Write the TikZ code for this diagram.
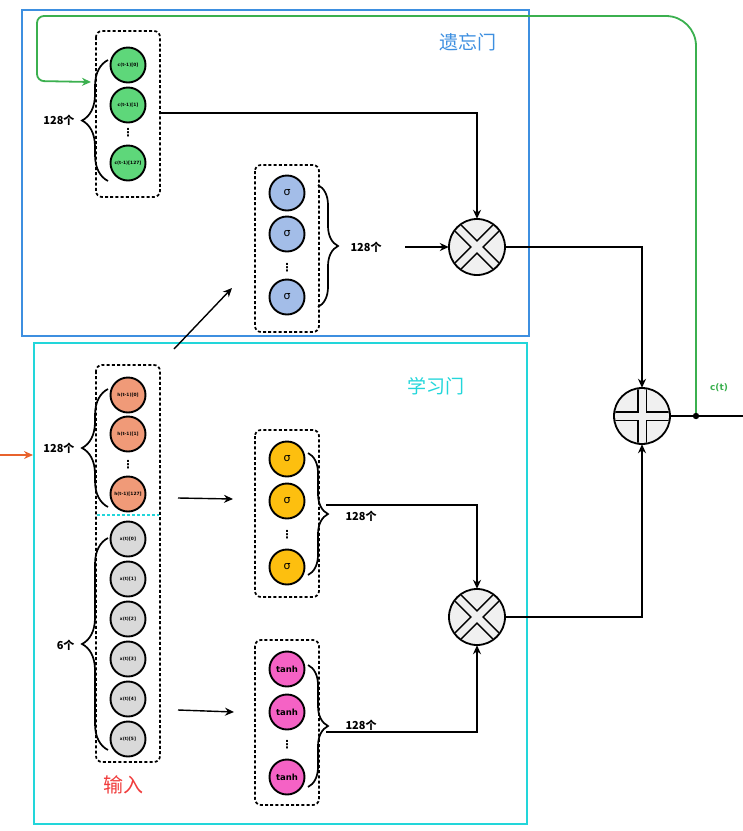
\documentclass[tikz,border=0pt]{standalone}
\usepackage{fontspec}
\setmainfont{DejaVu Sans}
\newfontfamily\cjk{Noto Sans CJK SC}
\usetikzlibrary{decorations.pathreplacing,arrows.meta,calc}
\definecolor{boxblue}{HTML}{3D8FE0}
\definecolor{boxcyan}{HTML}{22D6DA}
\definecolor{lineg}{HTML}{3BB04F}
\definecolor{ngreen}{HTML}{5ED77A}
\definecolor{nblue}{HTML}{A3BDE8}
\definecolor{norange}{HTML}{F09A78}
\definecolor{ngray}{HTML}{D9D9D9}
\definecolor{nyellow}{HTML}{FDBF0F}
\definecolor{npink}{HTML}{F562C5}
\definecolor{opgray}{HTML}{F0F0F0}
\definecolor{inred}{HTML}{F03C3C}
\definecolor{inorange}{HTML}{E8622C}
\newcommand{\mulsym}[1]{%
  \begin{scope}
    \clip (#1) circle (27);
    \draw[line width=10pt] ($(#1)+(-30,-30)$) -- ($(#1)+(30,30)$) ($(#1)+(-30,30)$) -- ($(#1)+(30,-30)$);
    \draw[line width=7pt,opgray] ($(#1)+(-30,-30)$) -- ($(#1)+(30,30)$) ($(#1)+(-30,30)$) -- ($(#1)+(30,-30)$);
  \end{scope}
  \draw[line width=1.8pt] (#1) circle (28);}
\newcommand{\addsym}[1]{%
  \begin{scope}
    \clip (#1) circle (27);
    \draw[line width=10pt] ($(#1)+(-30,0)$) -- ($(#1)+(30,0)$) ($(#1)+(0,-30)$) -- ($(#1)+(0,30)$);
    \draw[line width=7pt,opgray] ($(#1)+(-30,0)$) -- ($(#1)+(30,0)$) ($(#1)+(0,-30)$) -- ($(#1)+(0,30)$);
  \end{scope}
  \draw[line width=1.8pt] (#1) circle (28);}
\begin{document}
\begin{tikzpicture}[x=1pt,y=-1pt,
  neuron/.style={circle,draw,line width=1.9pt,minimum size=35pt,inner sep=0pt},
  tinylbl/.style={font=\bfseries\fontsize{4.4}{5}\selectfont},
  grp/.style={draw,dash pattern=on 3pt off 2.2pt,line width=1.7pt,rounded corners=6pt},
  arr/.style={-{Stealth[length=9pt,width=8pt]},line width=1.4pt},
  conn/.style={line width=1.4pt},
  brcl/.style={decorate,decoration={brace,amplitude=26pt},line width=1.7pt},
  brcr/.style={decorate,decoration={brace,amplitude=20pt},line width=1.7pt},
  cnt/.style={font=\cjk\bfseries\fontsize{11}{12}\selectfont},
  vdots/.style={font=\bfseries\fontsize{11}{11}\selectfont},
  sig/.style={font=\fontsize{11}{11}\selectfont},
  op/.style={circle,minimum size=56pt,inner sep=0pt,fill=opgray}
]
\useasboundingbox (0,0) rectangle (743,831);

% gate boxes
\draw[boxblue,line width=2.6pt] (22,10) rectangle (529,336);
\node[boxblue,font=\cjk\fontsize{19}{20}\selectfont] (fgl) at (468,42) {遗忘门};
\draw[boxcyan,line width=2.6pt] (34,343) rectangle (527,824);
\node[boxcyan,font=\cjk\fontsize{19}{20}\selectfont] (lgl) at (436,386) {学习门};

% ---- c(t-1) column
\draw[grp] (96,31) rectangle (160,197);
\node[neuron,fill=ngreen,tinylbl] (c0) at (128,65) {c(t-1)[0]};
\node[neuron,fill=ngreen,tinylbl] (c1) at (128,105) {c(t-1)[1]};
\node[vdots] (cd) at (128,133) {⋮};
\node[neuron,fill=ngreen,tinylbl] (c3) at (128,163) {c(t-1)[127]};
\draw[brcl] (108,181) -- (108,60);
\node[cnt,anchor=east] (ccnt) at (78,120) {128个};
\coordinate (cbin) at (91,82);

% ---- h(t-1) + x(t) column
\draw[grp] (96,365) rectangle (160,762);
\draw[boxcyan,dash pattern=on 3pt off 2pt,line width=1.5pt] (97,515) -- (159,515);
\node[neuron,fill=norange,tinylbl] (h0) at (128,395) {h(t-1)[0]};
\node[neuron,fill=norange,tinylbl] (h1) at (128,434) {h(t-1)[1]};
\node[vdots] (hd) at (128,465) {⋮};
\node[neuron,fill=norange,tinylbl] (h3) at (128,494) {h(t-1)[127]};
\draw[brcl] (108,507) -- (108,389);
\node[cnt,anchor=east] (hcnt) at (78,448) {128个};
\foreach \i/\yy in {0/539,1/579,2/619,3/659,4/699,5/739}{
  \node[neuron,fill=ngray,tinylbl] (x\i) at (128,\yy) {x(t)[\i]};
}
\draw[brcl] (108,750) -- (108,538);
\node[cnt,anchor=east] (xcnt) at (78,645) {6个};
\node[inred,font=\cjk\fontsize{20}{22}\selectfont] (inl) at (123,785) {输入};
\coordinate (inA) at (0,455);
\coordinate (inB) at (33,455);
\draw[arr,inorange] (inA) -- (inB);

% ---- forget sigma column
\draw[grp] (255,165) rectangle (319,332);
\node[neuron,fill=nblue,sig] (f0) at (287,193) {σ};
\node[neuron,fill=nblue,sig] (f1) at (287,234) {σ};
\node[vdots] (fd) at (287,268) {⋮};
\node[neuron,fill=nblue,sig] (f3) at (287,297) {σ};
\draw[brcr] (318,185) -- (318,307);
\node[cnt,anchor=west] (fcnt) at (347,247) {128个};
\coordinate (farr) at (405,247);

% ---- learn sigma column
\draw[grp] (255,430) rectangle (319,597);
\node[neuron,fill=nyellow,sig] (s0) at (287,459) {σ};
\node[neuron,fill=nyellow,sig] (s1) at (287,501) {σ};
\node[vdots] (sd) at (287,535) {⋮};
\node[neuron,fill=nyellow,sig] (s3) at (287,567) {σ};
\draw[brcr] (308,453) -- (308,575);
\node[cnt,anchor=west] (scnt) at (342,516) {128个};
\coordinate (sout) at (326,505);

% ---- tanh column
\draw[grp] (255,640) rectangle (319,805);
\node[neuron,fill=npink,font=\bfseries\fontsize{8.5}{9}\selectfont] (t0) at (287,669) {tanh};
\node[neuron,fill=npink,font=\bfseries\fontsize{8.5}{9}\selectfont] (t1) at (287,712) {tanh};
\node[vdots] (td) at (287,745) {⋮};
\node[neuron,fill=npink,font=\bfseries\fontsize{8.5}{9}\selectfont] (t3) at (287,777) {tanh};
\draw[brcr] (308,665) -- (308,787);
\node[cnt,anchor=west] (tcnt) at (342,725) {128个};
\coordinate (tout) at (326,732);

% ---- operators
\node[op] (m1) at (477,247) {};
\mulsym{m1}
\node[op] (m2) at (477,617) {};
\mulsym{m2}
\node[op] (pl) at (642,416) {};
\addsym{pl}

% ---- connectors
\coordinate (cout) at (160,113);
\draw[arr] (cout) -| (m1.north);
\draw[arr] (farr) -- (m1.west);
\draw[conn] (m1.east) -| ($(pl.north)+(0,-30)$);
\draw[arr] ($(pl.north)+(0,-31)$) -- (pl.north);
\draw[arr] (sout) -| (m2.north);
\draw[arr] (tout) -| (m2.south);
\draw[arr] (m2.east) -| (pl.south);

\coordinate (d1a) at (174,349);
\coordinate (d1b) at (232,288);
\draw[arr] (d1a) -- (d1b);
\coordinate (d2a) at (178,498);
\coordinate (d2b) at (233,499);
\draw[arr] (d2a) -- (d2b);
\coordinate (d3a) at (178,710);
\coordinate (d3b) at (234,712);
\draw[arr] (d3a) -- (d3b);

% output and recurrent c(t)
\coordinate (cdot) at (696,416);
\coordinate (outE) at (743,416);
\draw[conn] (pl.east) -- (outE);
\draw[lineg,line width=1.8pt,-{Stealth[length=9pt,width=8pt]}]
  (cdot) [rounded corners=30pt] -- (696,16) [rounded corners=7pt] -- (37,16) -- (37,81) -- (cbin);
\fill (cdot) circle (3.2);
\node[lineg,font=\bfseries\fontsize{9}{10}\selectfont] (ctl) at (719,388) {c(t)};
\end{tikzpicture}
\end{document}
